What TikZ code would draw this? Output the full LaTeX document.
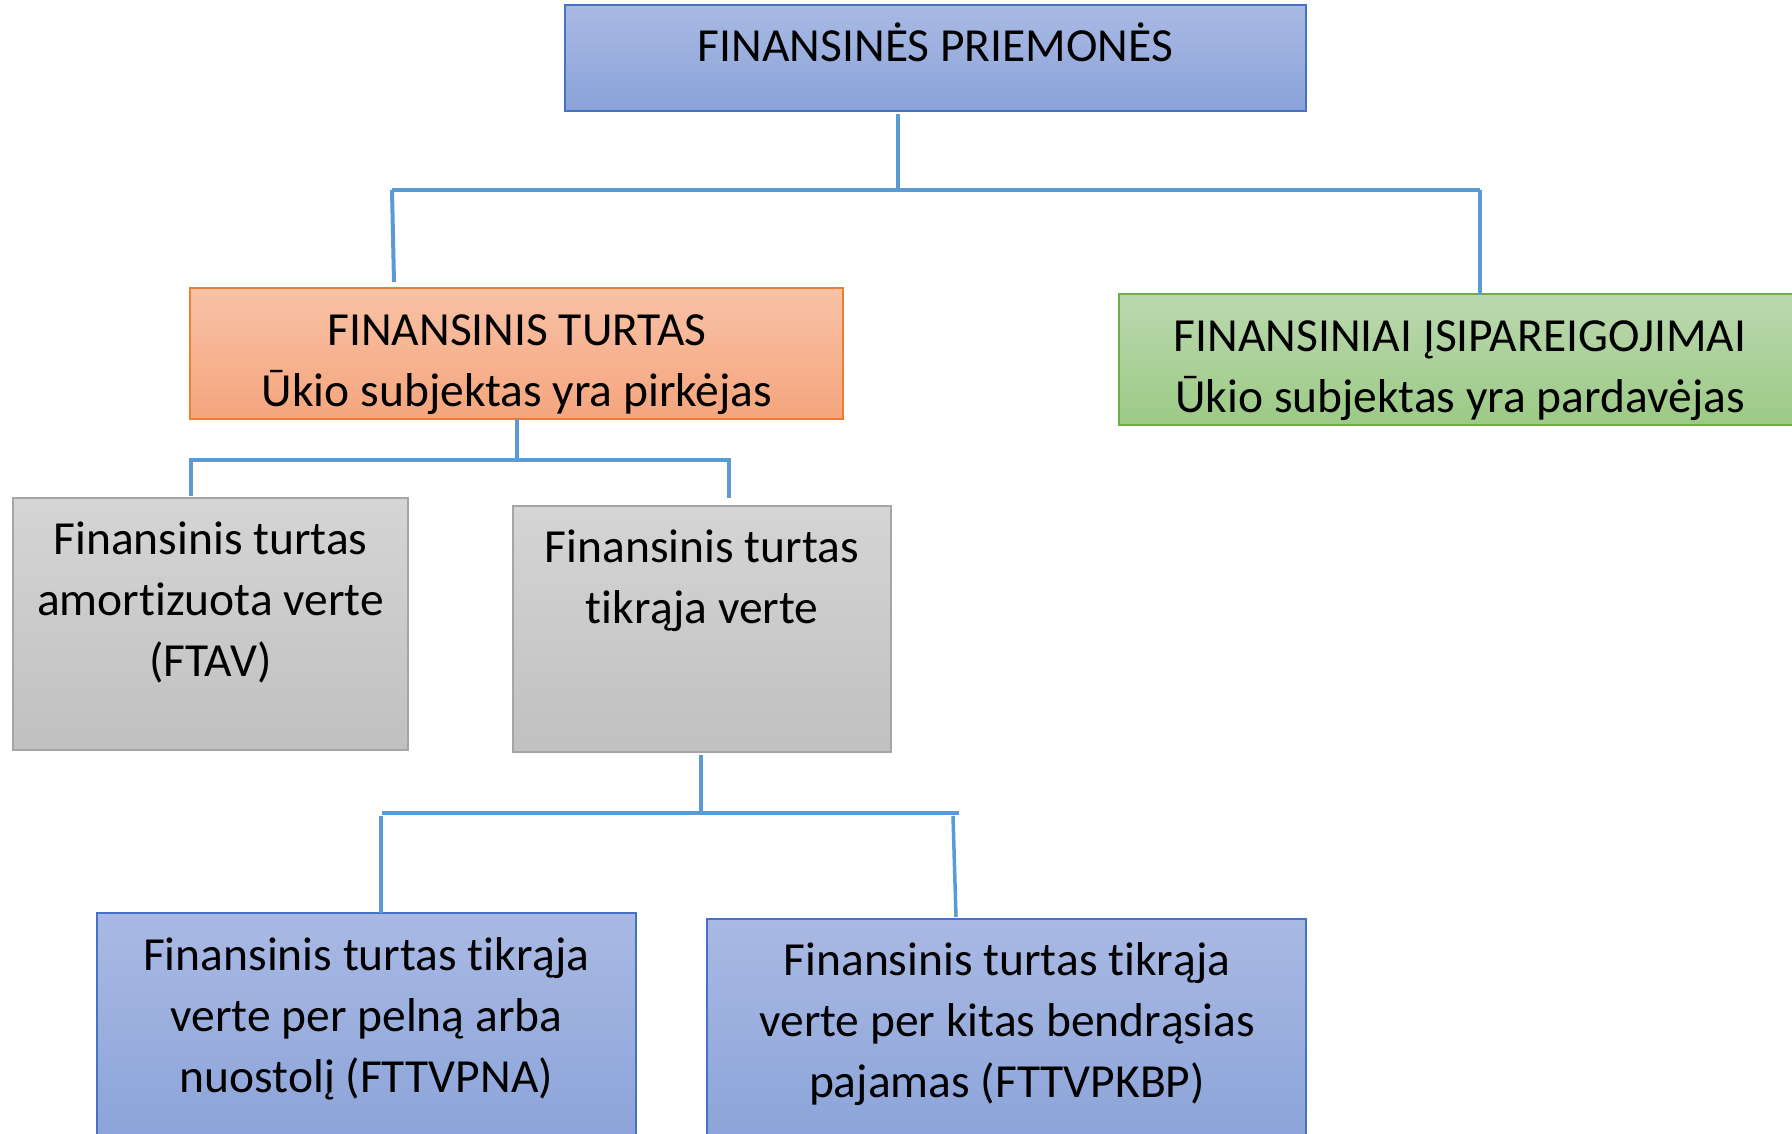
\documentclass[tikz,border=0pt]{standalone}
\usepackage{fontspec}
\setmainfont{Carlito}[Ligatures={NoCommon,NoContextual},Contextuals=NoAlternate]
\definecolor{linkblue}{HTML}{5B9BD5}
\definecolor{blueTop}{HTML}{A9B9E3}
\definecolor{blueBot}{HTML}{8BA3D9}
\definecolor{blueEdge}{HTML}{4472C4}
\definecolor{orTop}{HTML}{F8C2A6}
\definecolor{orBot}{HTML}{F5A57D}
\definecolor{orEdge}{HTML}{ED7D31}
\definecolor{grTop}{HTML}{BBD8AE}
\definecolor{grBot}{HTML}{9CCA86}
\definecolor{grEdge}{HTML}{70AD47}
\definecolor{gyTop}{HTML}{D5D5D5}
\definecolor{gyBot}{HTML}{C0C0C0}
\definecolor{gyEdge}{HTML}{A5A5A5}
\newcommand\lnstrut{\vrule height 35pt depth 13pt width 0pt}
\begin{document}
\begin{tikzpicture}[x=1pt,y=-1pt,
  box/.style={draw, line width=1.5pt, inner sep=0pt, outer sep=0pt, anchor=north west},
  bluebox/.style={box, draw=blueEdge, top color=blueTop, bottom color=blueBot},
  orbox/.style={box, draw=orEdge, top color=orTop, bottom color=orBot},
  grbox/.style={box, draw=grEdge, top color=grTop, bottom color=grBot},
  gybox/.style={box, draw=gyEdge, top color=gyTop, bottom color=gyBot},
  txt/.style={font=\fontsize{47.5}{61}\selectfont, align=center, inner sep=0pt, anchor=north, text=black},
  link/.style={draw=linkblue, line width=4pt},
  sublink/.style={draw=linkblue, line width=3.5pt},
]
\useasboundingbox (0,0) rectangle (1792,1134);
\fill[white] (0,0) rectangle (1792,1134);
\clip (0,0) rectangle (1792,1134);

% boxes
\node[bluebox, minimum width=741pt, minimum height=106pt] (top) at (565,5) {};
\node[orbox, minimum width=653pt, minimum height=131pt] (fa) at (190,288) {};
\node[grbox, minimum width=690pt, minimum height=131pt] (fl) at (1119,294) {};
\node[gybox, minimum width=395pt, minimum height=252pt] (ac) at (13,498) {};
\node[gybox, minimum width=378pt, minimum height=246pt] (fv) at (513,506) {};
\node[bluebox, minimum width=539pt, minimum height=235pt] (pl) at (97,913) {};
\node[bluebox, minimum width=599pt, minimum height=229pt] (oci) at (707,919) {};

% texts
\node[txt] (ttop) at (935.5,22.5) {\lnstrut FINANSINĖS PRIEMONĖS};
\node[txt] (tfa) at (517,310) {\lnstrut FINANSINIS TURTAS\\\lnstrut Ūkio subjektas yra pirkėjas};
\node[txt] (tfl) at (1460,316) {\lnstrut FINANSINIAI ĮSIPAREIGOJIMAI\\\lnstrut Ūkio subjektas yra pardavėjas};
\node[txt] (tac) at (210.5,519) {\lnstrut Finansinis turtas\\\lnstrut amortizuota verte\\\lnstrut (FTAV)};
\node[txt] (tfv) at (702,527) {\lnstrut Finansinis turtas\\\lnstrut tikrąja verte};
\node[txt] (tpl) at (366.5,935) {\lnstrut Finansinis turtas tikrąja\\\lnstrut verte per pelną arba\\\lnstrut nuostolį (FTTVPNA)};
\node[txt] (toci) at (1007,940) {\lnstrut Finansinis turtas tikrąja\\\lnstrut verte per kitas bendrąsias\\\lnstrut pajamas (FTTVPKBP)};

% connector points
\coordinate (a0) at (898,114);
\coordinate (a1) at (898,190);
\coordinate (aL) at (392,190);
\coordinate (aR) at (1480,190);
\coordinate (aLe) at (394,282);
\coordinate (aRe) at (1480,295);

\coordinate (b0) at (517,419);
\coordinate (b1) at (517,460);
\coordinate (bL) at (193,460);
\coordinate (bR) at (731,460);
\coordinate (bLs) at (191,458);
\coordinate (bLe) at (191,496);
\coordinate (bRs) at (729,460);
\coordinate (bRe) at (729,498);

\coordinate (c0) at (701,755);
\coordinate (c1) at (701,812);
\coordinate (cL) at (382,813);
\coordinate (cR) at (959,813);
\coordinate (cLs) at (381,816);
\coordinate (cLe) at (381,913);
\coordinate (cRs) at (953,816);
\coordinate (cRe) at (956,917);

% connectors
\draw[link] (a0) -- (a1);
\draw[link] (aL) -- (aR);
\draw[link] (aL) -- (aLe);
\draw[link] (aR) -- (aRe);

\draw[sublink] (b0) -- (b1);
\draw[sublink] (bL) -- (bR);
\draw[sublink] (bLs) -- (bLe);
\draw[sublink] (bRs) -- (bRe);

\draw[sublink] (c0) -- (c1);
\draw[sublink] (cL) -- (cR);
\draw[sublink] (cLs) -- (cLe);
\draw[sublink] (cRs) -- (cRe);
\end{tikzpicture}
\end{document}
